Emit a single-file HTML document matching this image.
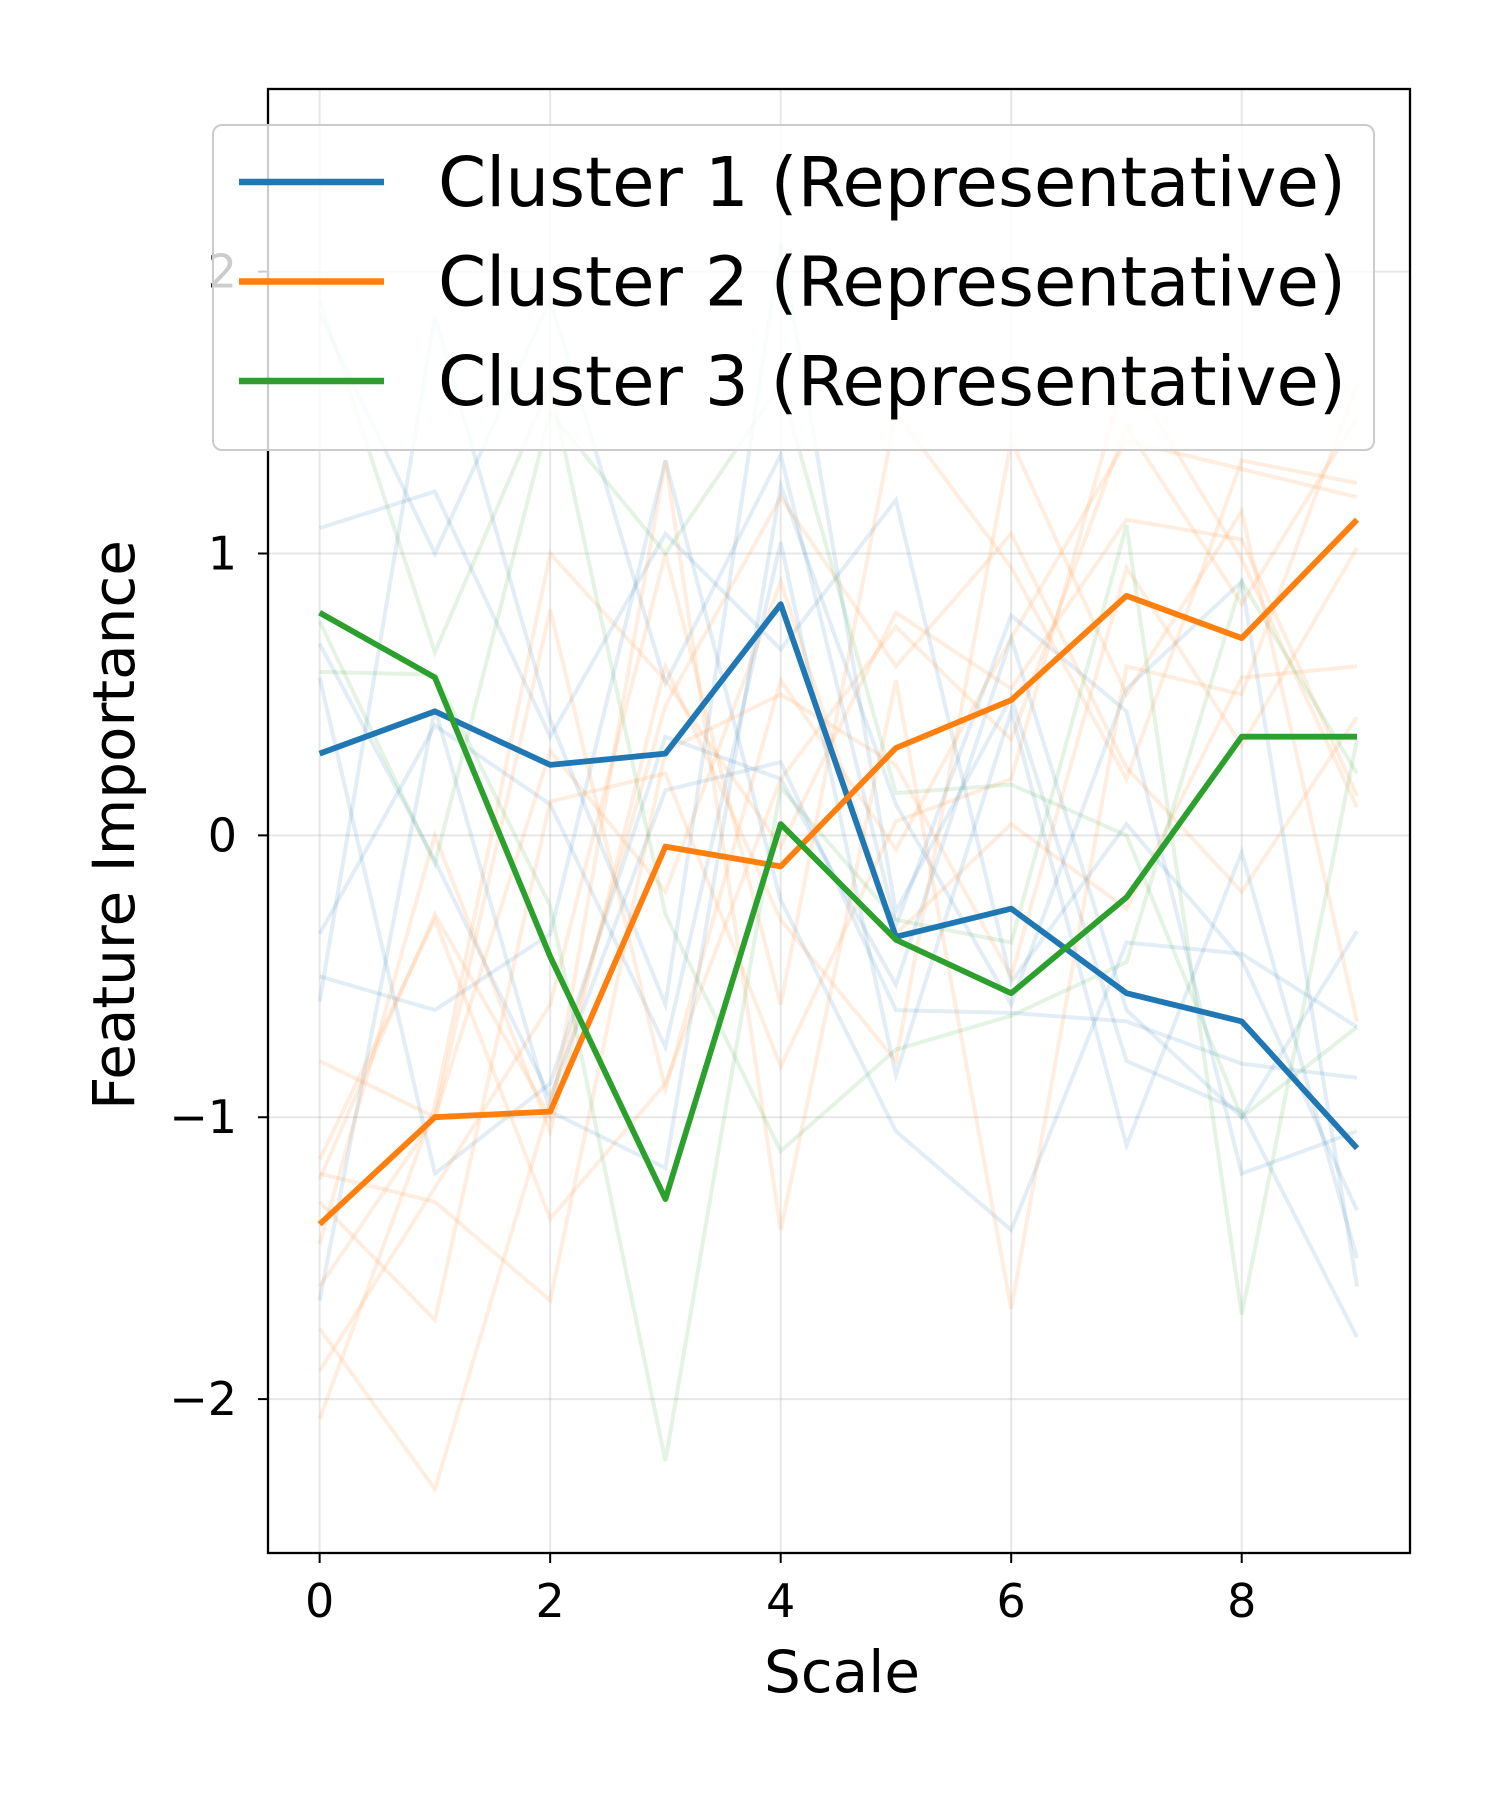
<!DOCTYPE html>
<html><head><meta charset="utf-8">
<style>
html,body{margin:0;padding:0;background:#fff;}
svg{display:block;font-family:"DejaVu Sans","Liberation Sans",sans-serif;}
</style></head>
<body>
<svg id="chart" width="1500" height="1800" viewBox="0 0 1500 1800" xmlns="http://www.w3.org/2000/svg">
<rect x="0" y="0" width="1500" height="1800" fill="#fff"/>
<g id="grid"></g>
<g id="bg"></g>
<g id="reps"></g>
<rect x="268" y="89" width="1142" height="1464" fill="none" stroke="#000" stroke-width="2.3"/>
<g id="ticks"></g>
<text x="842" y="1692" font-size="58" text-anchor="middle">Scale</text>
<text x="0" y="0" font-size="58" text-anchor="middle" transform="translate(134,825) rotate(-90)">Feature Importance</text>
<g id="legend"></g>
</svg>
<script>
const scales = [0,1,2,3,4,5,6,7,8,9];
const cluster1 = [0.29,0.44,0.25,0.29,0.82,-0.36,-0.26,-0.56,-0.66,-1.11];
const cluster2 = [-1.38,-1.0,-0.98,-0.04,-0.11,0.31,0.48,0.85,0.70,1.12];
const cluster3 = [0.79,0.56,-0.43,-1.29,0.04,-0.37,-0.56,-0.22,0.35,0.35];
const seriesNames = ["Cluster 1 (Representative)","Cluster 2 (Representative)","Cluster 3 (Representative)"];
const xTicks = [0,2,4,6,8];
const yTicks = [-2,-1,0,1,2];
const yTickLabels = ["\u22122","\u22121","0","1","2"];
const bgBlue = [
 [1.09,1.22,0.35,1.07,0.66,1.19,-0.52,0.04,-0.44,-1.33],
 [0.68,-0.09,-0.93,0.16,0.26,-0.62,-0.63,-0.66,-0.81,-0.86],
 [-0.35,0.39,0.11,-0.75,1.04,-0.85,0.44,-1.1,-0.06,-1.5],
 [1.85,1.0,1.9,0.54,1.35,-0.32,0.78,0.44,-1.2,-1.05],
 [-0.5,-0.62,-0.35,1.33,-0.23,-1.05,-1.4,-0.38,-0.42,-0.68],
 [-0.59,1.84,0.41,-0.6,2.1,-0.27,0.49,-0.8,-0.98,-1.78],
 [0.56,-1.2,-0.88,0.35,0.2,-0.53,0.7,-0.62,-1.0,-0.34],
 [-1.65,0.45,-0.98,-1.18,1.24,0.11,-0.6,0.52,0.9,-1.6]
];
const bgOrange = [
 [-0.8,-1.0,0.8,-0.9,0.55,-0.05,0.7,1.4,1.3,1.2],
 [-2.07,-0.96,1.0,0.55,-0.04,0.79,0.52,1.12,1.05,0.14],
 [-1.22,-0.28,-1.0,1.33,-1.4,0.55,-1.68,0.6,0.5,1.6],
 [-1.3,-1.72,0.12,0.22,-0.82,0.05,0.2,1.65,0.98,0.1],
 [-1.75,-2.32,-0.95,0.46,1.2,0.6,1.07,0.24,-0.2,0.42],
 [-1.15,-0.3,-1.36,-0.88,0.2,0.74,0.34,1.45,0.82,1.48],
 [-1.45,0.0,-1.05,0.6,-0.3,-0.8,1.4,0.5,1.15,-0.66],
 [-1.2,-1.3,-1.65,0.3,0.5,0.25,-0.5,0.95,0.32,1.02],
 [-1.6,-1.0,0.3,-0.2,0.9,-0.35,0.04,-0.26,0.56,0.6],
 [-1.9,-1.25,-0.6,1.0,-0.6,1.5,0.95,0.2,1.33,1.25]
];
const bgGreen = [
 [0.58,0.57,-0.25,-2.22,0.17,-0.3,-0.38,1.1,-1.7,0.34],
 [1.9,0.65,1.6,-0.28,-1.12,-0.76,-0.64,-0.45,0.9,0.22],
 [0.76,-0.1,1.5,1.0,1.6,0.15,0.18,0.0,-1.0,-0.68]
];
const X0=-0.448,X1=9.46,Y0=-2.546,Y1=2.648,L=268,R=1410,T=89,B=1553;
function xs(v){return L+(v-X0)/(X1-X0)*(R-L);}
function ys(v){return B-(v-Y0)/(Y1-Y0)*(B-T);}
const NS="http://www.w3.org/2000/svg";
function mk(tag,attrs,parent){const e=document.createElementNS(NS,tag);for(const k in attrs)e.setAttribute(k,attrs[k]);parent.appendChild(e);return e;}
function pts(arr){return arr.map((v,i)=>xs(scales[i]).toFixed(1)+","+ys(v).toFixed(1)).join(" ");}
const grid=document.getElementById('grid'),ticks=document.getElementById('ticks');
xTicks.forEach(t=>{
 const g=mk('line',{x1:xs(t),x2:xs(t),y1:T,y2:B,stroke:'#b0b0b0','stroke-opacity':0.3,'stroke-width':2},grid);
 
 
 const tk=mk('line',{x1:xs(t),x2:xs(t),y1:B,y2:B+10,stroke:'#000','stroke-width':2},ticks);
 
 
 const tx=mk('text',{x:xs(t),y:B+64,'font-size':46,'text-anchor':'middle'},ticks);
 tx.textContent=t;
 
 
});
yTicks.forEach((t,i)=>{
 const g=mk('line',{x1:L,x2:R,y1:ys(t),y2:ys(t),stroke:'#b0b0b0','stroke-opacity':0.3,'stroke-width':2},grid);
 
 
 const tk=mk('line',{x1:L-10,x2:L,y1:ys(t),y2:ys(t),stroke:'#000','stroke-width':2},ticks);
 
 
 const tx=mk('text',{x:L-31,y:ys(t)+16,'font-size':46,'text-anchor':'end'},ticks);
 tx.textContent=yTickLabels[i];
 
 
});
const bg=document.getElementById('bg');
[[bgBlue,'#1f77b4'],[bgOrange,'#ff7f0e'],[bgGreen,'#2ca02c']].forEach(([set,c])=>{
 set.forEach(arr=>{
  const p=mk('polyline',{points:pts(arr),fill:'none',stroke:c,'stroke-opacity':0.13,'stroke-width':4},bg);
  
  
 });
});
const reps=document.getElementById('reps');
const colors=['#1f77b4','#ff7f0e','#2ca02c'];
[cluster1,cluster2,cluster3].forEach((arr,i)=>{
 const p=mk('polyline',{points:pts(arr),fill:'none',stroke:colors[i],'stroke-width':5.8,'stroke-linejoin':'round'},reps);
 
 
});
const lg=document.getElementById('legend');
const box=mk('rect',{x:213,y:125,width:1161,height:325,rx:9,fill:'#fff','fill-opacity':0.8,stroke:'#cccccc','stroke-width':2},lg);


seriesNames.forEach((n,i)=>{
 const y=182+i*99.5;
 const l=mk('line',{x1:239,x2:384,y1:y,y2:y,stroke:colors[i],'stroke-width':6.5},lg);
 
 
 const t=mk('text',{x:438,y:y+24,'font-size':69},lg);
 t.textContent=n;
 
 
});
</script>
</body></html>
